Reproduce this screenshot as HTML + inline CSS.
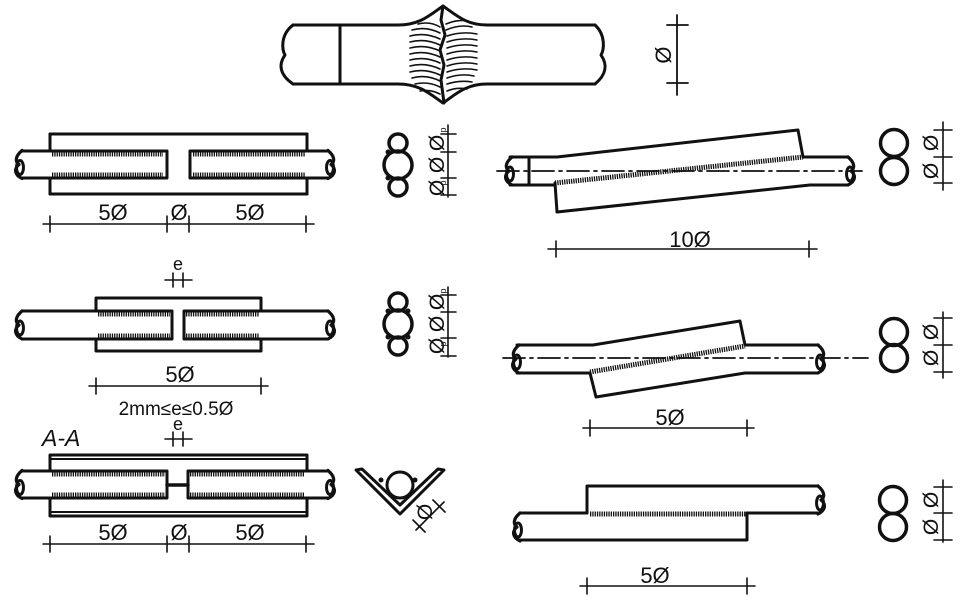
<!DOCTYPE html>
<html><head><meta charset="utf-8"><style>
html,body{margin:0;padding:0;background:#fff;}
svg{display:block;}
text{font-family:"Liberation Sans",sans-serif;fill:#111;}
</style></head><body>
<svg width="976" height="614" viewBox="0 0 976 614" xmlns="http://www.w3.org/2000/svg">
<defs>
<g id="endL"><path d="M0,-14 C-7,-8 -7,-3 -3,0 C-8,4 -8,10 0,14" fill="none" stroke="#111" stroke-width="3.2"/><ellipse cx="-2" cy="3" rx="3.5" ry="7" fill="none" stroke="#111" stroke-width="3"/></g>
<g id="endR"><path d="M0,-14 C7,-8 7,-3 3,0 C8,4 8,10 0,14" fill="none" stroke="#111" stroke-width="3.2"/><ellipse cx="2" cy="3" rx="3.5" ry="7" fill="none" stroke="#111" stroke-width="3"/></g>
</defs>
<g stroke="#111" fill="none" stroke-linecap="round" stroke-linejoin="round">

<!-- TOP weld -->
<path d="M293,25 L398,25 C420,25 430,15 443,6 C456,15 466,25 487,25 L595,25" stroke-width="3"/>
<path d="M293,84 L398,84 C420,84 430,94 443,103 C456,94 466,84 487,84 L595,84" stroke-width="3"/>
<path d="M293,25 C280,35 282,50 285,55 C278,65 280,75 293,84" stroke-width="3"/>
<path d="M595,25 C606,35 604,50 601,55 C608,65 606,75 595,84" stroke-width="3"/>
<line x1="340" y1="25" x2="340" y2="84" stroke-width="3"/>
<path d="M443,6 L441,20 L445,35 L440,50 L444,65 L441,80 L444,103" stroke-width="3"/>
<g stroke-width="1.6">
<path d="M418,24 q12,-3 22,3 M446,24 q12,-5 22,-3"/>
<path d="M412,30 q14,-4 28,3 M446,30 q14,-6 26,-3"/>
<path d="M410,36 q15,-4 30,3 M447,36 q15,-5 30,-2"/>
<path d="M410,42 q15,-4 30,3 M447,42 q15,-5 30,-2"/>
<path d="M410,48 q15,-4 30,3 M447,48 q15,-5 30,-2"/>
<path d="M410,54 q15,-4 30,3 M447,54 q15,-5 30,-2"/>
<path d="M410,60 q15,-4 30,3 M447,60 q15,-5 30,-2"/>
<path d="M410,66 q15,-4 30,3 M447,66 q15,-5 30,-2"/>
<path d="M410,72 q15,-4 30,3 M447,72 q15,-5 30,-2"/>
<path d="M412,78 q14,-4 28,3 M447,78 q14,-5 27,-2"/>
<path d="M415,84 q13,-3 25,3 M447,84 q13,-4 25,-2"/>
<path d="M420,91 q10,-2 20,3 M447,91 q10,-4 20,-2"/>
</g>
<line x1="677" y1="15" x2="677" y2="95" stroke-width="1.8"/>
<line x1="667" y1="25" x2="688" y2="25" stroke-width="1.8"/>
<line x1="667" y1="83" x2="688" y2="83" stroke-width="1.8"/>

<!-- ROW 1 left -->
<rect x="50" y="134" width="257" height="60" stroke-width="3"/>
<rect x="22" y="151" width="306" height="27" fill="#fff" stroke="none"/>
<path d="M22,151 L167,151 L167,178 L22,178" stroke-width="3"/>
<path d="M328,151 L190,151 L190,178 L328,178" stroke-width="3"/>
<line x1="50" y1="134" x2="50" y2="151" stroke-width="3"/><line x1="307" y1="134" x2="307" y2="151" stroke-width="3"/>
<line x1="50" y1="178" x2="50" y2="194" stroke-width="3"/><line x1="307" y1="178" x2="307" y2="194" stroke-width="3"/>
<g stroke-width="5" stroke-dasharray="1.3 1" stroke-linecap="butt">
<line x1="52" y1="154" x2="163" y2="154"/><line x1="193" y1="154" x2="305" y2="154"/>
<line x1="52" y1="175" x2="163" y2="175"/><line x1="193" y1="175" x2="305" y2="175"/>
</g>
<use href="#endL" x="22" y="164.5"/><use href="#endR" x="328" y="164.5"/>
<g stroke-width="1.6">
<line x1="43" y1="224" x2="314" y2="224"/>
<line x1="50" y1="216" x2="50" y2="232"/><line x1="167" y1="216" x2="167" y2="232"/><line x1="189" y1="216" x2="189" y2="232"/><line x1="306" y1="216" x2="306" y2="232"/>
</g>
<!-- section 1 -->
<circle cx="398" cy="143" r="9" stroke-width="3.5"/>
<circle cx="398" cy="165" r="14" stroke-width="3.5"/>
<circle cx="398" cy="187" r="9" stroke-width="3.5"/>
<circle cx="388" cy="152" r="2.5" fill="#111" stroke="none"/><circle cx="388" cy="178" r="2.5" fill="#111" stroke="none"/>
<g stroke-width="1.6">
<line x1="448" y1="125" x2="448" y2="197"/>
<line x1="441" y1="134" x2="456" y2="134"/><line x1="441" y1="152" x2="456" y2="152"/><line x1="441" y1="178" x2="456" y2="178"/><line x1="441" y1="195" x2="456" y2="195"/>
</g>

<!-- ROW 2 left -->
<rect x="96" y="298" width="165" height="53" stroke-width="3"/>
<rect x="22" y="311" width="306" height="28" fill="#fff" stroke="none"/>
<path d="M22,311 L172,311 L172,339 L22,339" stroke-width="3"/>
<path d="M328,311 L184,311 L184,339 L328,339" stroke-width="3"/>
<g stroke-width="5" stroke-dasharray="1.3 1" stroke-linecap="butt">
<line x1="98" y1="314" x2="170" y2="314"/><line x1="186" y1="314" x2="259" y2="314"/>
<line x1="98" y1="336" x2="170" y2="336"/><line x1="186" y1="336" x2="259" y2="336"/>
</g>
<use href="#endL" x="22" y="325"/><use href="#endR" x="328" y="325"/>
<g stroke-width="1.6">
<line x1="165" y1="280" x2="192" y2="280"/><line x1="173" y1="273" x2="173" y2="287"/><line x1="183" y1="273" x2="183" y2="287"/>
<line x1="89" y1="386" x2="268" y2="386"/><line x1="96" y1="378" x2="96" y2="394"/><line x1="261" y1="378" x2="261" y2="394"/>
</g>
<circle cx="398" cy="302" r="9" stroke-width="3.5"/>
<circle cx="398" cy="324" r="14" stroke-width="3.5"/>
<circle cx="398" cy="346" r="9" stroke-width="3.5"/>
<circle cx="388" cy="311" r="2.5" fill="#111" stroke="none"/><circle cx="408" cy="311" r="2.5" fill="#111" stroke="none"/>
<circle cx="388" cy="337" r="2.5" fill="#111" stroke="none"/><circle cx="408" cy="337" r="2.5" fill="#111" stroke="none"/>
<g stroke-width="1.6">
<line x1="448" y1="287" x2="448" y2="357"/>
<line x1="441" y1="295" x2="456" y2="295"/><line x1="441" y1="312" x2="456" y2="312"/><line x1="441" y1="338" x2="456" y2="338"/><line x1="441" y1="356" x2="456" y2="356"/>
</g>

<!-- ROW 3 left -->
<rect x="50" y="455" width="257" height="61" stroke-width="3"/>
<line x1="50" y1="459" x2="307" y2="459" stroke-width="2"/>
<line x1="50" y1="512" x2="307" y2="512" stroke-width="2"/>
<rect x="22" y="471" width="306" height="27" fill="#fff" stroke="none"/>
<path d="M22,471 L167,471 L167,498 L22,498" stroke-width="3"/>
<path d="M328,471 L188,471 L188,498 L328,498" stroke-width="3"/>
<line x1="167" y1="485" x2="188" y2="485" stroke-width="3.5"/>
<g stroke-width="5" stroke-dasharray="1.3 1" stroke-linecap="butt">
<line x1="52" y1="474" x2="165" y2="474"/><line x1="190" y1="474" x2="305" y2="474"/>
<line x1="52" y1="495" x2="165" y2="495"/><line x1="190" y1="495" x2="305" y2="495"/>
</g>
<use href="#endL" x="22" y="484.5"/><use href="#endR" x="328" y="484.5"/>
<g stroke-width="1.6">
<line x1="165" y1="439" x2="192" y2="439"/><line x1="173" y1="432" x2="173" y2="446"/><line x1="183" y1="432" x2="183" y2="446"/>
<line x1="43" y1="544" x2="314" y2="544"/>
<line x1="50" y1="536" x2="50" y2="552"/><line x1="167" y1="536" x2="167" y2="552"/><line x1="189" y1="536" x2="189" y2="552"/><line x1="306" y1="536" x2="306" y2="552"/>
</g>
<!-- V angle -->
<path d="M356,470 L400,514 L444,470 L438,469 L400,505 L362,469 Z" stroke-width="3"/>
<circle cx="400" cy="485" r="13" stroke-width="3"/>
<circle cx="381" cy="480" r="2.5" fill="#111" stroke="none"/><circle cx="415" cy="480" r="2.5" fill="#111" stroke="none"/>
<g stroke-width="1.6">
<line x1="416" y1="530" x2="444" y2="502"/>
<line x1="413" y1="520" x2="425" y2="532"/><line x1="433" y1="500" x2="445" y2="512"/>
</g>

<!-- RIGHT ROW 1 -->
<path d="M557,157 L798,130 L803,157 L848,157" stroke-width="3"/>
<path d="M510,157 L557,157" stroke-width="3"/>
<path d="M510,185 L555,185 M555,183 L557,212 L810,185 L848,185" stroke-width="3"/>
<line x1="529" y1="157" x2="529" y2="185" stroke-width="3"/>
<line x1="555" y1="183" x2="803" y2="157" stroke-width="5" stroke-dasharray="1.3 1" stroke-linecap="butt"/>
<use href="#endL" x="512" y="171"/><use href="#endR" x="848" y="171"/>
<line x1="497" y1="171" x2="862" y2="171" stroke-width="1.8" stroke-dasharray="22 5 3 5"/>
<g stroke-width="1.6">
<line x1="548" y1="249" x2="817" y2="249"/><line x1="556" y1="241" x2="556" y2="257"/><line x1="809" y1="241" x2="809" y2="257"/>
</g>
<circle cx="894" cy="143" r="13.5" stroke-width="3.5"/>
<circle cx="894" cy="171" r="13.5" stroke-width="3.5"/>
<g stroke-width="1.6">
<line x1="943" y1="122" x2="943" y2="190"/>
<line x1="934" y1="130" x2="952" y2="130"/><line x1="934" y1="157" x2="952" y2="157"/><line x1="934" y1="183" x2="952" y2="183"/>
</g>

<!-- RIGHT ROW 2 -->
<path d="M517,345 L593,345 L740,321 L745,345 L818,345" stroke-width="3"/>
<path d="M517,373 L590,373 L596,397 L745,373 L818,373" stroke-width="3"/>
<line x1="590" y1="372" x2="745" y2="346" stroke-width="5" stroke-dasharray="1.3 1" stroke-linecap="butt"/>
<use href="#endL" x="519" y="359"/><use href="#endR" x="818" y="359"/>
<line x1="503" y1="358" x2="868" y2="358" stroke-width="1.8" stroke-dasharray="22 5 3 5"/>
<g stroke-width="1.6">
<line x1="583" y1="428" x2="754" y2="428"/><line x1="590" y1="420" x2="590" y2="436"/><line x1="747" y1="420" x2="747" y2="436"/>
</g>
<circle cx="894" cy="332" r="13.5" stroke-width="3.5"/>
<circle cx="894" cy="358" r="13.5" stroke-width="3.5"/>
<g stroke-width="1.6">
<line x1="943" y1="312" x2="943" y2="378"/>
<line x1="934" y1="318" x2="952" y2="318"/><line x1="934" y1="345" x2="952" y2="345"/><line x1="934" y1="372" x2="952" y2="372"/>
</g>

<!-- RIGHT ROW 3 -->
<path d="M587,513 L587,486 L818,486" stroke-width="3"/>
<path d="M520,513 L587,513 M747,513 L818,513" stroke-width="3"/>
<path d="M520,540 L747,540 L747,513" stroke-width="3"/>
<line x1="590" y1="514" x2="747" y2="514" stroke-width="5" stroke-dasharray="1.3 1" stroke-linecap="butt"/>
<use href="#endL" x="520" y="527"/><use href="#endR" x="818" y="500"/>
<g stroke-width="1.6">
<line x1="580" y1="586" x2="755" y2="586"/><line x1="587" y1="578" x2="587" y2="594"/><line x1="747" y1="578" x2="747" y2="594"/>
</g>
<circle cx="893" cy="500" r="13.5" stroke-width="3.5"/>
<circle cx="893" cy="527" r="13.5" stroke-width="3.5"/>
<g stroke-width="1.6">
<line x1="943" y1="480" x2="943" y2="542"/>
<line x1="934" y1="487" x2="952" y2="487"/><line x1="934" y1="513" x2="952" y2="513"/><line x1="934" y1="540" x2="952" y2="540"/>
</g>
</g>

<!-- TEXT -->
<g font-size="22" text-anchor="middle">
<text transform="translate(663,55) rotate(-90)" y="8">Ø</text>
<text x="113" y="220">5Ø</text><text x="179" y="220">Ø</text><text x="250" y="220">5Ø</text>
<text x="178" y="270" font-size="18">e</text>
<text x="180" y="382">5Ø</text>
<text x="176" y="415" font-size="19">2mm≤e≤0.5Ø</text>
<text x="178" y="430" font-size="18">e</text>
<text x="113" y="540">5Ø</text><text x="179" y="540">Ø</text><text x="250" y="540">5Ø</text>
<text x="690" y="247">10Ø</text>
<text x="670" y="425">5Ø</text>
<text x="655" y="583">5Ø</text>
</g>
<text x="42" y="446" font-size="23" font-style="italic">A-A</text>
<g font-size="21" text-anchor="middle">
<text transform="translate(437,143) rotate(-90)" y="7">Ø</text>
<text transform="translate(437,165) rotate(-90)" y="7">Ø</text>
<text transform="translate(437,188) rotate(-90)" y="7">Ø</text>
<text transform="translate(437,302) rotate(-90)" y="7">Ø</text>
<text transform="translate(437,324) rotate(-90)" y="7">Ø</text>
<text transform="translate(437,346) rotate(-90)" y="7">Ø</text>
<text transform="translate(931,143) rotate(-90)" y="7">Ø</text>
<text transform="translate(931,171) rotate(-90)" y="7">Ø</text>
<text transform="translate(931,332) rotate(-90)" y="7">Ø</text>
<text transform="translate(931,358) rotate(-90)" y="7">Ø</text>
<text transform="translate(931,500) rotate(-90)" y="7">Ø</text>
<text transform="translate(931,527) rotate(-90)" y="7">Ø</text>
<text transform="translate(425,512) rotate(-90)" y="7">Ø</text>
</g>
<g font-size="9" text-anchor="middle">
<text transform="translate(443,130) rotate(-90)" y="3">p</text>
<text transform="translate(443,183) rotate(-90)" y="3">p</text>
<text transform="translate(443,291) rotate(-90)" y="3">p</text>
<text transform="translate(443,344) rotate(-90)" y="3">p</text>
</g>
</svg>
</body></html>
